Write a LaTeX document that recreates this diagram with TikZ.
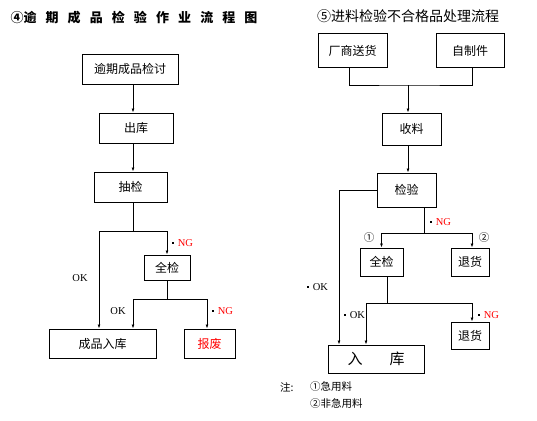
\documentclass[tikz,border=0pt]{standalone}
\usepackage{fontspec}
\setmainfont{Liberation Serif}
\newfontfamily\cjk{Noto Sans CJK SC}
\usetikzlibrary{positioning, arrows.meta, calc}

\newcommand{\tgap}{\hspace{0.7em}}
\newcommand{\dotmk}{\rule[2.6pt]{1.7pt}{1.7pt}\hspace{4pt}}
\newcommand{\ngmark}{\dotmk\textcolor{red}{NG}}
\newcommand{\okmark}{\dotmk OK}

\begin{document}
\begin{tikzpicture}[x=1pt, y=-1pt,
    box/.style={draw, line width=1pt, inner sep=0pt, font=\cjk\fontsize{12}{12}\selectfont},
    arr/.style={line width=1pt, -{Latex[length=4pt,width=3pt]}},
    wire/.style={line width=1pt},
    tag/.style={inner sep=0pt, font=\fontsize{10.5}{10.5}\selectfont},
    note/.style={inner sep=0pt, font=\cjk\fontsize{10.5}{10.5}\selectfont}]
  \useasboundingbox (0,0) rectangle (537,420);

  % left chart
  \node[inner sep=0pt, font=\cjk\bfseries\fontsize{13}{13}\selectfont] (ttl4) at (134,18)
    {④逾\tgap 期\tgap 成\tgap 品\tgap 检\tgap 验\tgap 作\tgap 业\tgap 流\tgap 程\tgap 图};
  \node[box, minimum width=96pt, minimum height=30pt] (rev) at (130,69) {逾期成品检讨};
  \node[box, minimum width=74pt, minimum height=30pt] (out) at (136,128) {出库};
  \node[box, minimum width=73pt, minimum height=30pt] (smp) at (130.5,187) {抽检};
  \node[box, minimum width=46pt, minimum height=25pt] (full) at (167,267.5) {全检};
  \node[box, minimum width=107pt, minimum height=29pt] (stock) at (102.5,343.5) {成品入库};
  \node[box, minimum width=51pt, minimum height=29pt, text=red] (scrap) at (209.5,343.5) {报废};

  \coordinate (x1) at (133,0);
  \coordinate (okA) at (99,0);
  \coordinate (ngB) at (207,0);
  \coordinate (j1) at (133,231);
  \coordinate (j2) at (167,299);
  \draw[arr] (rev.south -| x1) -- (out.north -| x1);
  \draw[arr] (out.south -| x1) -- (smp.north -| x1);
  \draw[wire] (smp.south -| j1) -- (j1);
  \draw[arr] (j1) -| (full.north);
  \draw[arr] (j1) -| (stock.north -| okA);
  \draw[wire] (full.south) -- (j2);
  \draw[arr] (j2) -| (stock.north -| x1);
  \draw[arr] (j2) -| (scrap.north -| ngB);

  \node[tag, anchor=west] (ng1) at (172,243) {\ngmark};
  \node[tag] (ok1) at (80,278) {OK};
  \node[tag] (ok2) at (118,311) {OK};
  \node[tag, anchor=west] (ng2) at (212,311) {\ngmark};

  % right chart
  \node[inner sep=0pt, font=\cjk\fontsize{14}{14}\selectfont] (ttl5) at (408,16) {⑤进料检验不合格品处理流程};
  \node[box, minimum width=69pt, minimum height=33pt] (vend) at (352.5,50.5) {厂商送货};
  \node[box, minimum width=68pt, minimum height=33pt] (self) at (470,50.5) {自制件};
  \node[box, minimum width=59pt, minimum height=32pt] (recv) at (411.5,129) {收料};
  \node[box, minimum width=59pt, minimum height=34pt] (insp) at (406.5,190) {检验};
  \node[box, minimum width=43pt, minimum height=28pt] (full2) at (381.5,262) {全检};
  \node[box, minimum width=38pt, minimum height=28pt] (ret1) at (470,262) {退货};
  \node[box, minimum width=38pt, minimum height=27pt] (ret2) at (470,335.5) {退货};
  \node[box, minimum width=96pt, minimum height=28pt, font=\cjk\fontsize{15}{15}\selectfont] (whs) at (376,359) {入\hspace{1.8em}库};

  \coordinate (vx) at (349,0);
  \coordinate (sx) at (472,0);
  \coordinate (byp) at (339,0);
  \coordinate (okC) at (366,0);
  \coordinate (m1) at (408,85);
  \coordinate (j3) at (424,233);
  \coordinate (j4) at (387,303);
  \draw[wire] (vend.south -| vx) |- (m1) -| (self.south -| sx);
  \draw[arr] (m1) -- (recv.north -| m1);
  \draw[arr] (recv.south -| m1) -- (insp.north -| m1);
  \draw[arr] (insp.west) -| (whs.north -| byp);
  \draw[wire] (insp.south -| j3) -- (j3);
  \draw[arr] (j3) -| (full2.north);
  \draw[arr] (j3) -| (ret1.north -| sx);
  \draw[wire] (full2.south -| j4) -- (j4);
  \draw[arr] (j4) -| (whs.north -| okC);
  \draw[arr] (j4) -| (ret2.north -| sx);

  \node[tag, anchor=west] (ng3) at (430,222) {\ngmark};
  \node[note] (n1) at (369,238) {①};
  \node[note] (n2) at (484,238) {②};
  \node[tag, anchor=west] (ok3) at (307,287) {\okmark};
  \node[tag, anchor=west] (ok4) at (344,315) {\okmark};
  \node[tag, anchor=west] (ng4) at (478,315) {\ngmark};

  \node[note, anchor=west] (nt) at (280,387) {注:};
  \node[note, anchor=west] (nt1) at (310,387) {①急用料};
  \node[note, anchor=west] (nt2) at (310,404) {②非急用料};
\end{tikzpicture}
\end{document}
